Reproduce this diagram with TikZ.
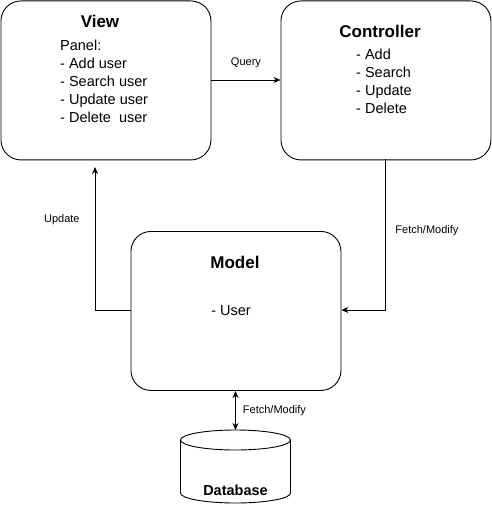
\documentclass[tikz,border=0pt]{standalone}
\usepackage{fontspec}
\setmainfont{Liberation Sans}
\usetikzlibrary{arrows.meta}
\begin{document}
\begin{tikzpicture}[x=1pt,y=-1pt,
  box/.style={draw,rounded corners=20pt,line width=0.9pt,minimum width=#1,inner sep=0pt},
  ttl/.style={font=\fontsize{17}{20}\selectfont\bfseries},
  body/.style={font=\fontsize{14.5}{18}\selectfont,align=left,inner sep=0pt},
  lbl/.style={font=\fontsize{11}{13}\selectfont,inner sep=0pt},
  conn/.style={line width=0.9pt,-{Stealth[length=7pt,width=6pt]}}]
\useasboundingbox (0,0) rectangle (491,521);
% boxes
\node[box=210pt,minimum height=159pt,anchor=north west] (view) at (0.5,0.5) {};
\node[box=210pt,minimum height=159pt,anchor=north west] (ctrl) at (280.5,0.5) {};
\node[box=210pt,minimum height=159pt,anchor=north west] (model) at (130.5,231) {};
% texts
\node[ttl] (viewt) at (100,21) {View};
\node[body,anchor=north west] (viewb) at (60,40) {Panel:\\- Add user\\- Search user\\- Update user\\- Delete\ \ user};
\node[ttl] (ctrlt) at (380,31) {Controller};
\node[body,anchor=north west] (ctrlb) at (356,49) {- Add\\- Search\\- Update\\- Delete};
\node[ttl] (modelt) at (235,262) {Model};
\node[body] (modelb) at (231,311) {- User};
% database cylinder
\coordinate (dbtop) at (235.5,430);
\coordinate (dbbot) at (235.5,503);
\draw[line width=0.9pt] (180.5,440) arc[start angle=180,end angle=-180,x radius=55,y radius=10];
\draw[line width=0.9pt] (180.5,440) -- (180.5,493) arc[start angle=180,end angle=0,x radius=55,y radius=10] -- (290.5,440);
\node[font=\fontsize{14.5}{17}\selectfont\bfseries] (db) at (235.5,490) {Database};
% connectors
\draw[conn] (view.east |- 0,80) -- node[lbl,above=12pt] (q) {Query} (ctrl.west |- 0,80);
\coordinate (u1) at (95,310);
\draw[conn] (model.west |- u1) -- (u1) -- node[lbl,pos=0.63,left=15pt] (upd) {Update} (95,167);
\coordinate (f1) at (385,310);
\draw[conn] (385,159.5) -- node[lbl,pos=0.47,right=10pt] (fm) {Fetch/Modify} (f1) -- (model.east |- f1);
\draw[line width=0.9pt,{Stealth[length=7pt,width=6pt]}-{Stealth[length=7pt,width=6pt]}] (235.5,391) -- node[lbl,right=7pt] (fm2) {Fetch/Modify} (dbtop);
\end{tikzpicture}
\end{document}
